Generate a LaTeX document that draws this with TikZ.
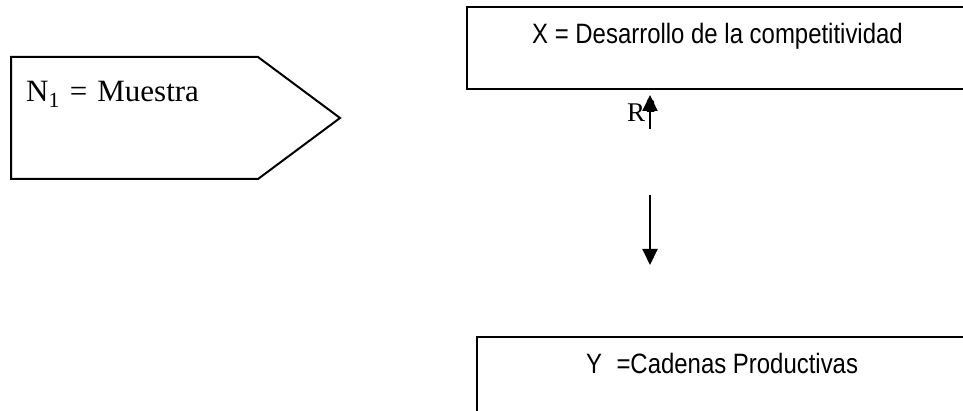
\documentclass[tikz,border=0pt]{standalone}
\usepackage{fontspec}
\setmainfont{Liberation Serif}
\newfontfamily\arialfont{Liberation Sans}
\usetikzlibrary{arrows.meta}
\begin{document}
\begin{tikzpicture}[x=1pt,y=-1pt,
  frame/.style={draw=black, line width=2pt, line join=miter},
  flow/.style={line width=2pt, -{Triangle[width=15pt,length=16pt]}},
  sanslabel/.style={font=\arialfont\fontsize{28}{32}\selectfont, inner sep=0pt, anchor=base west},
  seriflabel/.style={font=\fontsize{31}{36}\selectfont, inner sep=0pt, anchor=base west},
  rlabel/.style={font=\fontsize{27}{30}\selectfont, inner sep=0pt, anchor=base west}]
\useasboundingbox (0,0) rectangle (963,411);

% shapes (the two boxes run past the page edge)
\begin{scope}
  \clip (0,0) rectangle (963,411);
  \draw[frame] (11,57) -- (258,57) -- (340,118) -- (258,179) -- (11,179) -- cycle;
  \draw[frame] (467,7) rectangle (1000,89);
  \draw[frame] (477,337) rectangle (1000,450);
\end{scope}

% texts
\node[seriflabel] (muestra) at (26,102) {N\textsubscript{1}\hspace{10pt}=\hspace{10pt}Muestra};
\node[sanslabel] (xvar) at (532,44) {\scalebox{0.855}[1]{X = Desarrollo de la competitividad}};
\node[sanslabel] (yvar) at (586,373) {\scalebox{0.855}[1]{Y\hspace{9pt} =Cadenas Productivas}};
\node[rlabel] (rsq) at (627,122) {R\textsuperscript{\hspace{1pt}2}};

% arrows
\coordinate (upfrom) at (650,129);
\coordinate (upto) at (650,95);
\coordinate (downfrom) at (650,195);
\coordinate (downto) at (650,265);
\draw[flow] (upfrom) -- (upto);
\draw[flow] (downfrom) -- (downto);
\end{tikzpicture}
\end{document}
